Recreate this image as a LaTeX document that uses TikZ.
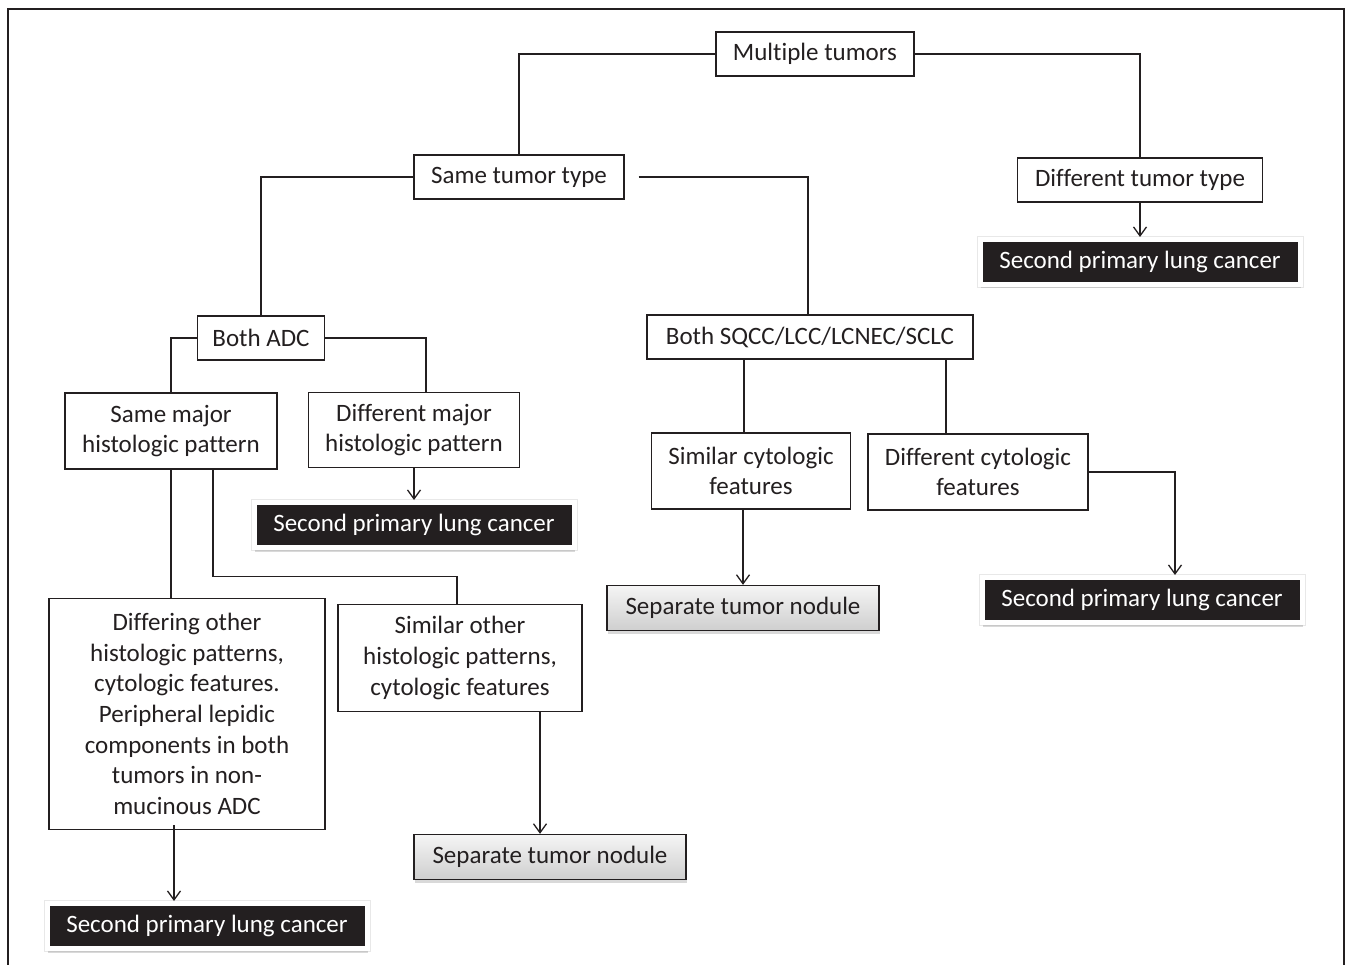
\documentclass[tikz,border=0pt]{standalone}
\usepackage{fontspec}
\setmainfont[Ligatures={NoCommon}]{Carlito}
\usepackage{tikz}
\usetikzlibrary{arrows.meta,shadows}

\definecolor{ink}{RGB}{35,31,32}

\tikzset{
    box/.style={draw=ink, line width=1.3pt, fill=white, inner sep=0pt, align=center, text=ink},
    result/.style={draw=white, line width=5pt, fill=ink, text=white, inner sep=0pt,
        minimum width=320pt, minimum height=45pt,
        preaction={draw=gray!18, line width=7pt},
        drop shadow={opacity=0.3, shadow xshift=1pt, shadow yshift=-4pt}},
    nodule/.style={draw=ink, line width=1.3pt, top color=gray!8, bottom color=gray!38,
        inner sep=0pt, text=ink, minimum width=272pt, minimum height=45pt,
        drop shadow={opacity=0.3, shadow xshift=1pt, shadow yshift=-3pt}},
    link/.style={draw=ink, line width=1.3pt},
    arrow/.style={link, -{Straight Barb[length=9pt,width=13pt]}}
}

\begin{document}
\begin{tikzpicture}[x=1pt, y=-1pt, font=\fontsize{25}{30.7}\selectfont]
    \useasboundingbox (0,0) rectangle (1347,965);
    % Frame
    \draw[ink, line width=2.5pt] (8,965) -- (8,9) -- (1344,9) -- (1344,965);

    % Top level
    \node[box, minimum width=198pt, minimum height=44pt] (mt) at (815,54) {Multiple tumors};
    \node[box, minimum width=210pt, minimum height=44pt] (stt) at (519,177) {Same tumor type};
    \node[box, minimum width=245pt, minimum height=44pt] (dtt) at (1140,180) {Different tumor type};
    \node[result] (res1) at (1140,262) {Second primary lung cancer};

    % Same tumor type branches
    \node[box, minimum width=127pt, minimum height=44pt] (adc) at (261,338) {Both ADC};
    \node[box, minimum width=326pt, minimum height=44pt] (sq) at (810,337) {Both SQCC/LCC/LCNEC/SCLC};

    % Both ADC
    \node[box, minimum width=212pt, minimum height=76pt] (smp) at (171,431) {Same major\\histologic pattern};
    \node[box, minimum width=211pt, minimum height=75pt] (dmp) at (414,430) {Different major\\histologic pattern};
    \node[result] (res2) at (414,525) {Second primary lung cancer};
    \node[box, minimum width=276pt, minimum height=231pt] (dop) at (187,714)
        {Differing other\\histologic patterns,\\cytologic features.\\Peripheral lepidic\\components in both\\tumors in non-\\mucinous ADC};
    \node[box, minimum width=244pt, minimum height=107pt] (sop) at (460,658)
        {Similar other\\histologic patterns,\\cytologic features};
    \node[nodule] (nod2) at (550,857) {Separate tumor nodule};
    \node[result] (res4) at (207,926) {Second primary lung cancer};

    % Both SQCC/LCC/LCNEC/SCLC
    \node[box, minimum width=199pt, minimum height=76pt] (scf) at (751,471) {Similar cytologic\\features};
    \node[box, minimum width=220pt, minimum height=76pt] (dcf) at (978,472) {Different cytologic\\features};
    \node[nodule] (nod1) at (743,608) {Separate tumor nodule};
    \node[result] (res3) at (1142,600) {Second primary lung cancer};

    % Connectors
    \draw[link] (mt.west) -| (stt.north);
    \draw[link] (mt.east) -| (dtt.north);
    \draw[arrow] (dtt.south) -- (res1.north);
    \draw[link] (stt.west) -| (adc.north);
    \draw[link] ([xshift=14pt]stt.east) -| ([xshift=-2pt]sq.north);
    \draw[link] (adc.west) -| (smp.north);
    \draw[link] (adc.east) -| ([xshift=12pt]dmp.north);
    \draw[arrow] (dmp.south) -- (res2.north);
    \draw[link] (smp.south) -- (smp.south |- dop.north);
    \draw[link] ([xshift=42pt]smp.south) -- ++(0,107) -| ([xshift=-3pt]sop.north);
    \draw[arrow] ([xshift=80pt]sop.south) -- ([xshift=80pt]sop.south |- nod2.north);
    \draw[arrow] ([xshift=-13pt,yshift=5pt]dop.south) -- ([xshift=-13pt]dop.south |- res4.north);
    \draw[link] ([xshift=-66pt]sq.south) -- ([xshift=-66pt]sq.south |- scf.north);
    \draw[link] ([xshift=136pt]sq.south) -- ([xshift=136pt]sq.south |- dcf.north);
    \draw[arrow] ([xshift=-8pt]scf.south) -- (nod1.north);
    \draw[arrow] (dcf.east) -| ([xshift=33pt]res3.north);
\end{tikzpicture}
\end{document}
